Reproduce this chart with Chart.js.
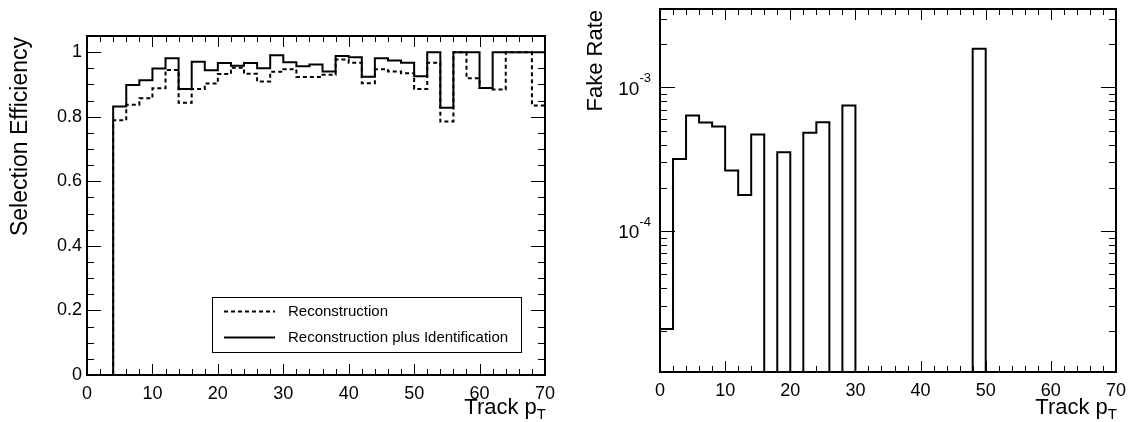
<!DOCTYPE html>
<html>
<head>
<meta charset="utf-8">
<title>Track selection efficiency and fake rate</title>
<script src="https://cdn.jsdelivr.net/npm/chart.js@4.4.0/dist/chart.umd.min.js"></script>
<style>
  html, body { margin: 0; padding: 0; background: #fff; }
  #wrap { position: relative; width: 1134px; height: 422px; overflow: hidden; }
  .panel { position: absolute; top: 0; width: 567px; height: 422px; }
  #left { left: 0; }
  #right { left: 567px; }
</style>
</head>
<body>
<div id="wrap">
  <div class="panel" id="left"><canvas id="effChart" width="567" height="422"></canvas></div>
  <div class="panel" id="right"><canvas id="fakeChart" width="567" height="422"></canvas></div>
</div>
<script>
// Track pT bin edges (2 GeV bins)
const binEdges = [0, 2, 4, 6, 8, 10, 12, 14, 16, 18, 20, 22, 24, 26, 28, 30, 32, 34, 36,
  38, 40, 42, 44, 46, 48, 50, 52, 54, 56, 58, 60, 62, 64, 66, 68, 70];

// Selection efficiency per bin, reconstruction only (dashed)
const recoEff = [0, 0, 0.789, 0.837, 0.857, 0.888, 0.945, 0.843, 0.886, 0.903, 0.932, 0.952,
  0.933, 0.909, 0.939, 0.947, 0.923, 0.923, 0.930, 0.977, 0.967, 0.904, 0.947, 0.940, 0.935,
  0.886, 0.967, 0.785, 1.0, 0.919, 0.889, 0.884, 1.0, 1.0, 0.835];

// Selection efficiency per bin, reconstruction plus identification (solid)
const recoIdEff = [0, 0, 0.832, 0.898, 0.913, 0.949, 0.981, 0.886, 0.970, 0.944, 0.966, 0.958,
  0.966, 0.950, 0.990, 0.969, 0.956, 0.962, 0.940, 0.988, 0.984, 0.924, 0.981, 0.974, 0.967,
  0.925, 1.0, 0.828, 1.0, 1.0, 0.889, 1.0, 1.0, 1.0, 1.0];

// Fake rate per bin (0 = empty bin)
const fakeRate = [2.07e-5, 3.17e-4, 6.38e-4, 5.70e-4, 5.34e-4, 2.64e-4, 1.78e-4, 4.70e-4, 0,
  3.54e-4, 0, 4.83e-4, 5.73e-4, 0, 7.49e-4, 0, 0, 0, 0, 0, 0, 0, 0, 0, 1.86e-3,
  0, 0, 0, 0, 0, 0, 0, 0, 0, 0];

const xTickLabels = ['0', '10', '20', '30', '40', '50', '60', '70'];
const effTickLabels = ['0', '0.2', '0.4', '0.6', '0.8', '1'];
const seriesNames = ['Reconstruction', 'Reconstruction plus Identification'];

const FONT = "'Liberation Sans', Arial, Helvetica, sans-serif";
Chart.defaults.font.family = FONT;
Chart.defaults.color = '#000';

// Turn bin contents into points for a step line (hold value until next edge)
function histPoints(edges, values, floor) {
  const pts = values.map((v, i) => ({ x: edges[i], y: v > 0 ? v : floor }));
  const last = values[values.length - 1];
  pts.push({ x: edges[edges.length - 1], y: last > 0 ? last : floor });
  return pts;
}

// ROOT-like frame: inward ticks on all four sides plus axis titles
const rootFrame = {
  id: 'rootFrame',
  afterDatasetsDraw(chart, args, opts) {
    const { ctx, chartArea: a, scales } = chart;
    const xs = scales.x, ys = scales.y;
    ctx.save();
    ctx.strokeStyle = '#000';
    ctx.lineWidth = 1;
    ctx.beginPath();
    for (let v = xs.min; v <= xs.max + 1e-9; v += opts.xMinorStep) {
      const major = Math.abs(v / opts.xMajorStep - Math.round(v / opts.xMajorStep)) < 1e-6;
      const len = major ? opts.xMajorLen : opts.xMinorLen;
      const px = Math.round(xs.getPixelForValue(v)) + 0.5;
      ctx.moveTo(px, a.bottom); ctx.lineTo(px, a.bottom - len);
      ctx.moveTo(px, a.top); ctx.lineTo(px, a.top + len);
    }
    const yTicks = [];
    if (ys.type === 'logarithmic') {
      for (let e = Math.floor(Math.log10(ys.min)); e <= Math.ceil(Math.log10(ys.max)); e++) {
        for (let m = 1; m <= 9; m++) {
          const v = m * Math.pow(10, e);
          if (v >= ys.min && v <= ys.max) yTicks.push({ v, major: m === 1 });
        }
      }
    } else {
      for (let i = 0; ys.min + i * opts.yMinorStep <= ys.max + 1e-9; i++) {
        yTicks.push({ v: ys.min + i * opts.yMinorStep, major: i % opts.yMinorPerMajor === 0 });
      }
    }
    yTicks.forEach(t => {
      const py = Math.round(ys.getPixelForValue(t.v)) + 0.5;
      const len = t.major ? opts.yMajorLen : opts.yMinorLen;
      ctx.moveTo(a.left, py); ctx.lineTo(a.left + len, py);
      ctx.moveTo(a.right, py); ctx.lineTo(a.right - len, py);
    });
    ctx.stroke();

    ctx.lineWidth = 2;
    ctx.strokeRect(a.left, a.top, a.right - a.left, a.bottom - a.top);

    // log axis labels with superscripts
    if (ys.type === 'logarithmic') {
      yTicks.filter(t => t.major).forEach(t => {
        const py = ys.getPixelForValue(t.v);
        const exp = String(Math.round(Math.log10(t.v)));
        ctx.fillStyle = '#000';
        ctx.textBaseline = 'middle';
        ctx.textAlign = 'right';
        ctx.font = '13px ' + FONT;
        const supW = ctx.measureText(exp).width;
        const right = a.left - 9;
        ctx.fillText(exp, right, py - 9);
        ctx.font = '19px ' + FONT;
        ctx.fillText('10', right - supW, py + 2);
      });
    }

    // x title with subscript T, right aligned at the end of the axis
    ctx.fillStyle = '#000';
    ctx.textBaseline = 'alphabetic';
    ctx.textAlign = 'right';
    ctx.font = '15px ' + FONT;
    const subW = ctx.measureText('T').width;
    ctx.fillText('T', a.right + 1, opts.xTitleY + 5);
    ctx.font = '22px ' + FONT;
    ctx.fillText(opts.xTitle, a.right + 1 - subW, opts.xTitleY);

    // y title, rotated, aligned at the top of the axis
    ctx.save();
    ctx.translate(opts.yTitleX, a.top + 1);
    ctx.rotate(-Math.PI / 2);
    ctx.textAlign = 'right';
    ctx.textBaseline = 'middle';
    ctx.font = opts.yTitleSize + 'px ' + FONT;
    ctx.fillText(opts.yTitle, 0, 0);
    ctx.restore();

    // legend box
    if (opts.legend) {
      const L = opts.legend;
      ctx.lineWidth = 1;
      ctx.strokeRect(L.x + 0.5, L.y + 0.5, L.w, L.h);
      chart.data.datasets.forEach((ds, i) => {
        const cy = L.y + L.rowY[i] + 0.5;
        ctx.beginPath();
        ctx.lineWidth = ds.borderWidth;
        ctx.setLineDash(ds.borderDash || []);
        ctx.moveTo(L.x + 12, cy);
        ctx.lineTo(L.x + 63, cy);
        ctx.stroke();
        ctx.setLineDash([]);
        ctx.font = '15px ' + FONT;
        ctx.textAlign = 'left';
        ctx.textBaseline = 'middle';
        ctx.fillText(ds.label, L.x + 76, cy);
      });
    }
    ctx.restore();
  }
};

const noGrid = { display: false, drawTicks: false };

// Left panel: selection efficiency
new Chart(document.getElementById('effChart'), {
  type: 'line',
  data: {
    datasets: [
      {
        label: seriesNames[0],
        data: histPoints(binEdges, recoEff, 0),
        borderColor: '#000',
        borderWidth: 2,
        borderDash: [4, 3],
        stepped: true,
        pointRadius: 0,
        fill: false,
      },
      {
        label: seriesNames[1],
        data: histPoints(binEdges, recoIdEff, 0),
        borderColor: '#000',
        borderWidth: 2,
        stepped: true,
        pointRadius: 0,
        fill: false,
      },
    ],
  },
  options: {
    responsive: false,
    animation: false,
    layout: { padding: { top: 36, right: 22, left: 0, bottom: 0 } },
    plugins: {
      legend: { display: false },
      tooltip: { enabled: false },
      rootFrame: {
        xMinorStep: 2, xMajorStep: 10, xMajorLen: 11, xMinorLen: 6,
        yMinorStep: 0.05, yMinorPerMajor: 4, yMajorLen: 14, yMinorLen: 7,
        xTitle: 'Track p', xTitleY: 414,
        yTitle: 'Selection Efficiency', yTitleX: 21, yTitleSize: 23,
        legend: { x: 212, y: 297, w: 309, h: 55, rowY: [14, 40] },
      },
    },
    scales: {
      x: {
        type: 'linear', min: 0, max: 70,
        grid: noGrid, border: { display: false },
        ticks: {
          stepSize: 10, padding: 8, maxRotation: 0, font: { size: 18 },
          callback: (v) => xTickLabels[Math.round(v / 10)],
        },
        afterFit: (s) => { s.height = 47; },
      },
      y: {
        type: 'linear', min: 0, max: 1.05,
        grid: noGrid, border: { display: false },
        ticks: {
          stepSize: 0.2, includeBounds: false, padding: 5, font: { size: 18 },
          callback: (v) => effTickLabels[Math.round(v / 0.2)],
        },
        afterFit: (s) => { s.width = 87; },
      },
    },
  },
  plugins: [rootFrame],
});

// Right panel: fake rate (log scale)
new Chart(document.getElementById('fakeChart'), {
  type: 'line',
  data: {
    datasets: [
      {
        label: 'Fake Rate',
        data: histPoints(binEdges, fakeRate, 1e-8),
        borderColor: '#000',
        borderWidth: 2,
        stepped: true,
        pointRadius: 0,
        fill: false,
        clip: 0,
      },
    ],
  },
  options: {
    responsive: false,
    animation: false,
    layout: { padding: { top: 9, right: 15, left: 0, bottom: 0 } },
    plugins: {
      legend: { display: false },
      tooltip: { enabled: false },
      rootFrame: {
        xMinorStep: 2, xMajorStep: 10, xMajorLen: 11, xMinorLen: 6,
        yMajorLen: 15, yMinorLen: 7,
        xTitle: 'Track p', xTitleY: 414,
        yTitle: 'Fake Rate', yTitleX: 29, yTitleSize: 22,
      },
    },
    scales: {
      x: {
        type: 'linear', min: 0, max: 70,
        grid: noGrid, border: { display: false },
        ticks: {
          stepSize: 10, padding: 8, maxRotation: 0, font: { size: 18 },
          callback: (v) => xTickLabels[Math.round(v / 10)],
        },
        afterFit: (s) => { s.height = 50; },
      },
      y: {
        type: 'logarithmic', min: 1.04e-5, max: 3.52e-3,
        grid: noGrid, border: { display: false },
        ticks: { display: false },
        afterFit: (s) => { s.width = 93; },
      },
    },
  },
  plugins: [rootFrame],
});
</script>
</body>
</html>
